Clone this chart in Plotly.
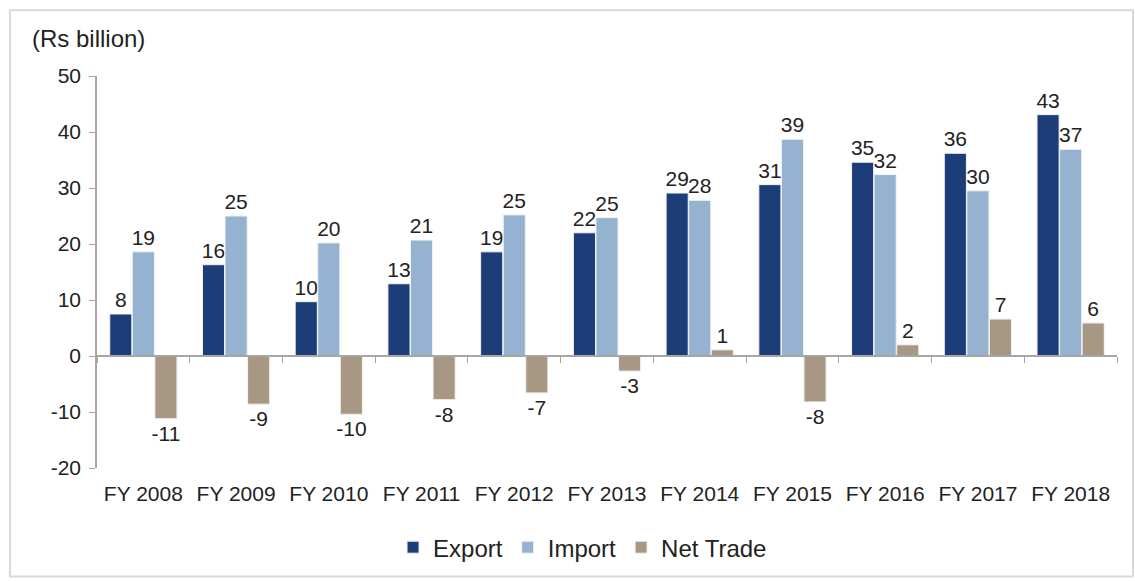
import plotly.graph_objects as go

years = ["FY 2008", "FY 2009", "FY 2010", "FY 2011", "FY 2012", "FY 2013",
         "FY 2014", "FY 2015", "FY 2016", "FY 2017", "FY 2018"]
export_vals = [7.5, 16.3, 9.7, 12.9, 18.6, 22.0, 29.1, 30.6, 34.6, 36.2, 43.1]
import_vals = [18.6, 25.0, 20.2, 20.7, 25.2, 24.7, 27.8, 38.7, 32.4, 29.5, 36.9]
net_vals = [-11.2, -8.6, -10.4, -7.8, -6.6, -2.7, 1.1, -8.2, 2.0, 6.6, 5.9]
y_ticks = [-20, -10, 0, 10, 20, 30, 40, 50]


def fmt(v):
    r = int(abs(v) + 0.5)
    return f"-{r}" if v < 0 else f"{r}"


FONT = "Liberation Sans, Arial, sans-serif"
series = [("Export", export_vals, "#1C3D78"),
          ("Import", import_vals, "#95B3D0"),
          ("Net Trade", net_vals, "#A89883")]

fig = go.Figure()
for name, vals, col in series:
    fig.add_trace(go.Bar(
        x=years, y=vals, name=name,
        marker=dict(color=col, line=dict(color="#F2F2F2", width=1)),
        text=[fmt(v) for v in vals],
        textposition="outside", constraintext="none", cliponaxis=False,
        textfont=dict(family=FONT, size=21, color="#222222"),
    ))

# helper trace for the category axis drawn at zero
fig.add_trace(go.Scatter(x=years, y=[0] * len(years), xaxis="x2", mode="markers",
                         marker=dict(opacity=0, size=1), showlegend=False,
                         hoverinfo="skip"))

n = len(years)
fig.update_layout(
    width=1135, height=581,
    margin=dict(l=97, r=18, t=76, b=112),
    paper_bgcolor="white", plot_bgcolor="white",
    barmode="group", bargap=0.27, bargroupgap=0.02,
    font=dict(family=FONT, size=21, color="#222222"),
    xaxis=dict(type="category", categoryarray=years, range=[-0.5, n - 0.5],
               showline=False, ticks="", showgrid=False,
               tickfont=dict(size=21, color="#222222"), ticklabelstandoff=11),
    xaxis2=dict(type="category", categoryarray=years, overlaying="x", matches="x",
                anchor="free", position=20 / 70, side="bottom",
                showline=True, linecolor="#A6A6A6", linewidth=1.5,
                ticks="outside", tickson="boundaries", ticklen=6,
                tickcolor="#A6A6A6", showticklabels=False, showgrid=False),
    yaxis=dict(range=[-20, 50], tickvals=y_ticks, ticktext=[fmt(v) for v in y_ticks],
               showgrid=False, zeroline=False,
               showline=True, linecolor="#A6A6A6", linewidth=1.5,
               ticks="outside", ticklen=6, tickcolor="#A6A6A6",
               tickfont=dict(size=21, color="#222222"), ticklabelstandoff=4),
    legend=dict(orientation="h", x=0.476, y=-0.2, xanchor="center", yanchor="middle",
                font=dict(size=24, color="#222222"), itemwidth=30,
                traceorder="normal"),
    showlegend=True,
)

fig.add_annotation(text="(Rs billion)", xref="paper", yref="paper",
                   x=-0.0657, y=1.0967, xanchor="left", yanchor="middle",
                   showarrow=False, font=dict(family=FONT, size=24, color="#222222"))

fig.add_shape(type="rect", xref="paper", yref="paper",
              x0=-0.0853, x1=1.0157, y0=-0.277, y1=1.168,
              line=dict(color="#D9D9D9", width=2), fillcolor="rgba(0,0,0,0)")

fig.write_html("out.html", config={"displayModeBar": False},
               post_script="document.body.style.margin='0px';")
